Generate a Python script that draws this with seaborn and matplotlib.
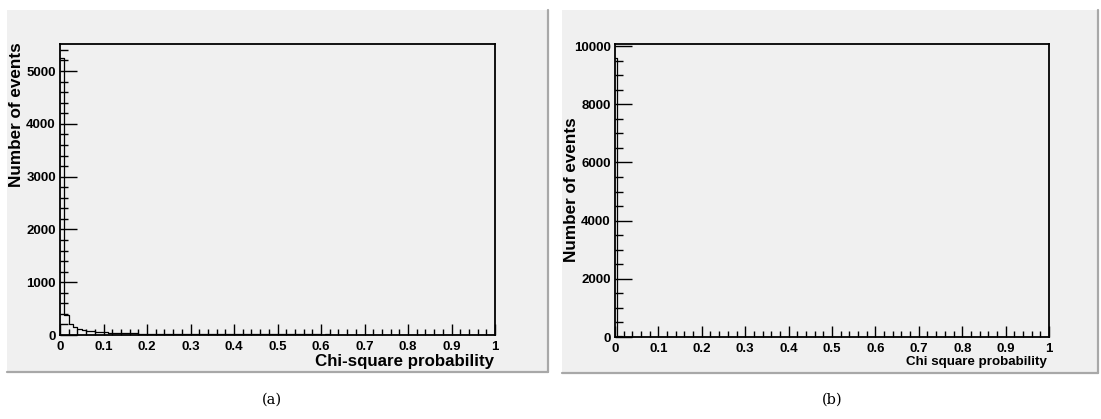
import matplotlib
matplotlib.use("Agg")
import matplotlib.pyplot as plt
from matplotlib.patches import Rectangle
from matplotlib.lines import Line2D
from matplotlib.ticker import MultipleLocator
import numpy as np
import pandas as pd
import seaborn as sns

# ---- data -------------------------------------------------------------
# (a) chi-square probability, 100 bins on [0, 1]
counts_a = [
    5250, 385, 205, 150, 118, 98, 84, 72, 64, 57,
    51, 47, 43, 39, 36, 34, 32, 30, 28, 27,
    26, 24, 23, 22, 21, 21, 20, 19, 19, 18,
    18, 17, 17, 16, 16, 15, 15, 15, 14, 14,
    14, 13, 13, 13, 13, 12, 12, 12, 12, 11,
    11, 11, 11, 11, 10, 10, 10, 10, 10, 10,
    9, 10, 9, 9, 9, 9, 9, 8, 9, 8,
    8, 8, 8, 8, 8, 7, 8, 7, 7, 7,
    7, 7, 7, 7, 7, 6, 7, 6, 6, 6,
    6, 6, 6, 6, 6, 6, 5, 6, 5, 5,
]
# (b) chi square probability, 200 bins on [0, 1]
counts_b = [
    9590, 45, 22, 15, 12, 10, 8, 7, 6, 6, 5, 5, 4, 4, 4, 3, 3, 3, 3, 3,
    3, 2, 3, 2, 2, 2, 2, 2, 2, 2, 2, 2, 1, 2, 2, 1, 2, 1, 2, 1,
    1, 2, 1, 1, 1, 2, 1, 1, 1, 1, 1, 1, 1, 0, 1, 1, 1, 1, 0, 1,
    1, 1, 0, 1, 1, 0, 1, 1, 1, 0, 1, 0, 1, 1, 0, 1, 0, 1, 1, 0,
    1, 0, 1, 0, 1, 1, 0, 1, 0, 1, 0, 1, 0, 1, 0, 1, 1, 0, 0, 1,
    0, 1, 0, 1, 0, 0, 1, 0, 1, 0, 1, 0, 0, 1, 0, 1, 0, 0, 1, 0,
    1, 0, 0, 1, 0, 0, 1, 0, 1, 0, 0, 1, 0, 0, 1, 0, 0, 1, 0, 1,
    0, 0, 1, 0, 0, 1, 0, 0, 1, 0, 0, 0, 1, 0, 0, 1, 0, 0, 1, 0,
    0, 1, 0, 0, 0, 1, 0, 0, 1, 0, 0, 0, 1, 0, 0, 1, 0, 0, 0, 1,
    0, 0, 1, 0, 0, 0, 1, 0, 0, 1, 0, 0, 0, 1, 0, 0, 0, 1, 0, 1,
]

x_ticks = [0, 0.1, 0.2, 0.3, 0.4, 0.5, 0.6, 0.7, 0.8, 0.9, 1.0]
x_tick_labels = ["0", "0.1", "0.2", "0.3", "0.4", "0.5", "0.6", "0.7", "0.8", "0.9", "1"]
y_ticks_a = [0, 1000, 2000, 3000, 4000, 5000]
y_ticks_b = [0, 2000, 4000, 6000, 8000, 10000]

xlabel_a = "Chi-square probability"
xlabel_b = "Chi square probability"
ylabel = "Number of events"
captions = ["(a)", "(b)"]

# ---- style ------------------------------------------------------------
sns.set_theme(style="white")
plt.rcParams["font.family"] = ["Liberation Sans", "DejaVu Sans"]
plt.rcParams["font.weight"] = "bold"
plt.rcParams["text.color"] = "black"

W, H = 1101, 419
fig = plt.figure(figsize=(W / 100, H / 100), dpi=100)
fig.patch.set_facecolor("white")

PAD_BG = "#f0f0f0"
EDGE = "#a8a8a8"


def fx(px):
    return px / W


def fy(py):
    return 1 - py / H


def pad(x0, y0, x1, y1):
    fig.patches.append(Rectangle((fx(x0), fy(y1)), fx(x1 - x0), (y1 - y0) / H,
                                 transform=fig.transFigure, facecolor=PAD_BG,
                                 edgecolor="none", zorder=-10))
    fig.lines.append(Line2D([fx(x0), fx(x1)], [fy(y1), fy(y1)],
                            transform=fig.transFigure, color=EDGE, lw=1.6,
                            zorder=-5))
    fig.lines.append(Line2D([fx(x1), fx(x1)], [fy(y0), fy(y1)],
                            transform=fig.transFigure, color=EDGE, lw=1.6,
                            zorder=-5))


pad(7, 10, 548, 372)
pad(562, 10, 1098, 373)


def make_axes(l, t, r, b):
    ax = fig.add_axes([fx(l), fy(b), fx(r - l), (b - t) / H])
    ax.set_zorder(5)
    return ax


def histo(ax, counts, ymax, yticks, yminor):
    n = len(counts)
    edges = np.linspace(0, 1, n + 1)
    df = pd.DataFrame({"prob": (edges[:-1] + edges[1:]) / 2,
                       "events": counts})
    sns.histplot(data=df, x="prob", weights="events", bins=n, binrange=(0, 1),
                 element="step", fill=False, color="black", linewidth=0.9,
                 ax=ax)
    ax.set_facecolor(PAD_BG)
    ax.set_xlim(0, 1)
    ax.set_ylim(0, ymax)
    ax.set_xticks(x_ticks)
    ax.set_xticklabels(x_tick_labels)
    ax.set_yticks(yticks)
    ax.set_yticklabels([str(v) for v in yticks])
    ax.xaxis.set_minor_locator(MultipleLocator(0.02))
    ax.yaxis.set_minor_locator(MultipleLocator(yminor))
    ax.tick_params(axis="y", which="major", direction="in", length=12, width=1,
                   pad=3, labelsize=9.5, colors="black", left=True)
    ax.tick_params(axis="y", which="minor", direction="in", length=6, width=1,
                   left=True, colors="black")
    ax.tick_params(axis="x", which="major", direction="in", length=8, width=1,
                   pad=4, labelsize=9.5, colors="black", bottom=True)
    ax.tick_params(axis="x", which="minor", direction="in", length=4, width=1,
                   bottom=True, colors="black")
    for lab in ax.get_xticklabels() + ax.get_yticklabels():
        lab.set_fontweight("bold")
    for s in ax.spines.values():
        s.set_visible(True)
        s.set_color("black")
        s.set_linewidth(1.3)
    ax.set_xlabel("")
    ax.set_ylabel("")


ax_a = make_axes(60, 44, 495, 335)
histo(ax_a, counts_a, 5512, y_ticks_a, 200)

ax_b = make_axes(615, 44, 1049, 337)
histo(ax_b, counts_b, 10070, y_ticks_b, 500)

# axis titles
fig.text(fx(494), fy(366), xlabel_a, ha="right", va="baseline",
         fontsize=12.2, fontweight="bold")
fig.text(fx(1047), fy(365), xlabel_b, ha="right", va="baseline",
         fontsize=9.6, fontweight="bold")
fig.text(fx(17), fy(115), ylabel, rotation=90, ha="center", va="center",
         fontsize=12.3, fontweight="bold")
fig.text(fx(572), fy(190), ylabel, rotation=90, ha="center", va="center",
         fontsize=12.3, fontweight="bold")

# sub-figure captions
for txt, cx in zip(captions, [272, 832]):
    fig.text(fx(cx), fy(400), txt, ha="center", va="center",
             fontsize=10.5, fontweight="normal", family="DejaVu Serif")

fig.savefig("out.png", dpi=100, facecolor="white")
